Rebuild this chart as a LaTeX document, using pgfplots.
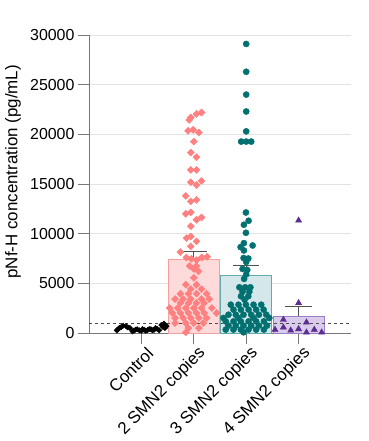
\documentclass[border=0pt]{standalone}
\usepackage{pgfplots}
\pgfplotsset{compat=1.18}
\usepackage{fontspec}
\setmainfont{Liberation Sans}
\definecolor{pinkpt}{RGB}{255,128,128}
\definecolor{pinkfill}{RGB}{255,218,218}
\definecolor{pinkedge}{RGB}{244,160,160}
\definecolor{tealpt}{RGB}{0,112,112}
\definecolor{tealfill}{RGB}{212,232,236}
\definecolor{tealedge}{RGB}{100,170,170}
\definecolor{purppt}{RGB}{92,45,145}
\definecolor{purpfill}{RGB}{217,204,234}
\definecolor{purpedge}{RGB}{155,125,200}
\definecolor{axgray}{RGB}{120,120,120}
\definecolor{errgray}{RGB}{80,80,80}
\begin{document}
\begin{tikzpicture}
\begin{axis}[
  scale only axis, width=262bp, height=298bp,
  xmin=0, xmax=5, ymin=0, ymax=30000,
  axis x line*=bottom, axis y line*=left,
  xtick={1,2,3,4},
  xticklabels={Control,2 SMN2 copies,3 SMN2 copies,4 SMN2 copies},
  x tick label style={rotate=45, anchor=east, xshift=5bp, yshift=-11bp, font=\fontsize{17}{17}\selectfont},
  ytick={0,5000,...,30000},
  y tick label style={font=\fontsize{16}{16}\selectfont},
  ymajorgrids, grid style={gray!22, line width=0.7pt},
  tick align=outside, major tick length=11bp,
  tick style={axgray, line width=0.9pt},
  axis line style={axgray, line width=0.9pt},
  ylabel={pNf-H concentration (pg/mL)},
  ylabel style={at={(axis description cs:-0.29,0.541)}, anchor=center, font=\fontsize{17}{17}\selectfont},
  scaled y ticks=false,
  /pgf/number format/set thousands separator={},
  /pgf/number format/assume math mode=true,
  clip=false,
]
% bars
\addplot[ybar, bar shift=0pt, bar width=0.97, fill=pinkfill, draw=pinkedge, line width=0.9pt] coordinates {(2,7440)};
\addplot[ybar, bar shift=0pt, bar width=0.97, fill=tealfill, draw=tealedge, line width=0.9pt] coordinates {(3,5830)};
\addplot[ybar, bar shift=0pt, bar width=0.97, fill=purpfill, draw=purpedge, line width=0.9pt] coordinates {(4,1710)};
% threshold
\addplot[black!70, dashed, line width=0.7pt] coordinates {(0,965) (5,965)};
% control
\addplot[only marks, mark=square*, mark size=1.9, mark options={rotate=45, fill=black, draw=black}] coordinates {
(0.53,270)(0.58,500)(0.65,740)(0.71,670)(0.78,500)(0.83,170)(0.89,340)(0.96,270)(1.02,400)(1.08,230)
(1.15,400)(1.21,270)(1.27,500)(1.34,270)(1.38,800)(1.43,950)(1.45,500)
(0.55,350)(0.62,620)(0.74,560)(0.86,250)(0.92,380)(1.0,230)(1.05,330)(1.12,300)(1.18,380)(1.24,320)(1.3,420)(1.41,620)(1.48,700)
};
% 2 copies
\addplot[only marks, mark=square*, mark size=2.5, mark options={rotate=45, fill=pinkpt, draw=pinkpt}] coordinates {
(2.147,22200)(2.051,22050)(1.943,21700)(1.911,21450)
(1.891,20350)(1.987,20450)(2.096,20180)
(2.0,19270)
(1.943,18170)(2.051,17700)
(1.943,16420)(2.051,16420)
(1.943,15180)(2.147,15320)(2.051,14900)
(1.847,13800)(1.943,13250)(2.051,13400)
(1.847,12000)(1.943,12150)(2.147,11630)(2.051,11400)(1.943,10750)
(1.86,9550)(1.943,9720)(2.051,9220)(1.943,8720)
(1.743,8150)(1.858,7600)(1.954,7470)(2.05,7340)(2.152,7600)(2.255,7670)
(1.92,6740)(2.05,6740)(2.0,6450)(2.09,6200)(2.0,5560)
(1.847,4860)(2.051,4860)
(1.943,4420)(2.147,4420)
(1.745,3960)(1.898,3960)(2.051,3960)(2.243,3960)
(1.642,3420)(1.796,3420)(1.943,3420)(2.147,3420)(2.294,3420)
(1.745,3020)(1.898,3020)(2.051,3020)(2.198,3020)
(1.54,2510)(1.693,2510)(1.847,2510)(2.0,2510)(2.147,2510)(2.345,2510)
(1.591,2010)(1.745,2010)(1.898,2010)(2.051,2010)(2.198,2010)(2.434,2010)
(1.642,1510)(1.796,1510)(1.943,1510)(2.096,1510)(2.243,1510)
(1.642,1000)(1.847,1000)(2.0,1000)(2.179,1000)
(1.898,500)(2.096,500)
(1.847,70)
};
% 3 copies
\addplot[only marks, mark=*, mark size=3.1, mark options={fill=tealpt, draw=tealpt}] coordinates {
(3,29100)(3,26300)(3,24000)(3,22300)(3,20300)(2.904,19270)(3,19270)(3.096,19270)
(2.995,12130)(3.046,11300)(2.956,10900)(2.995,10090)(2.956,9050)(3.123,8810)(2.893,8650)(2.956,8310)
(2.95,7550)(3.04,7500)(3.0,7150)(2.93,6450)(3.02,6350)(3.0,5900)(2.96,5450)
(2.87,4600)(2.98,4600)(3.08,4600)
(2.93,4150)(3.06,4150)
(2.90,3700)(3.04,3700)
(2.97,3350)
(2.706,2850)(2.853,2850)(2.994,2850)(3.14,2850)(3.287,2850)
(2.757,2350)(2.898,2350)(3.045,2350)(3.19,2350)(3.332,2350)
(2.662,1840)(2.802,1840)(2.949,1840)(3.096,1840)(3.243,1840)(3.383,1840)
(2.566,1510)(2.853,1510)(3.14,1510)(3.441,1510)
(2.61,1170)(2.757,1170)(2.898,1170)(3.045,1170)(3.19,1170)(3.338,1170)
(2.662,740)(2.802,740)(2.949,740)(3.096,740)(3.243,740)(3.396,740)
(2.61,340)(2.757,340)(2.898,340)(3.045,340)(3.19,340)(3.338,340)
(2.949,70)
};
% 4 copies
\addplot[only marks, mark=triangle*, mark size=3.6, mark options={fill=purppt, draw=purppt}] coordinates {
(4,11330)(4,3020)(3.71,1340)(4.15,1070)(3.55,330)(3.71,560)(3.85,260)(4.0,400)(4.15,60)(4.3,330)(4.44,60)
};
% error bars
\addplot[errgray, line width=0.9pt] coordinates {(2,7440)(2,8200)};
\addplot[errgray, line width=0.9pt] coordinates {(1.75,8200)(2.25,8200)};
\addplot[errgray, line width=0.9pt] coordinates {(3,5830)(3,6770)};
\addplot[errgray, line width=0.9pt] coordinates {(2.75,6770)(3.25,6770)};
\addplot[errgray, line width=0.9pt] coordinates {(4,1710)(4,2720)};
\addplot[errgray, line width=0.9pt] coordinates {(3.75,2720)(4.25,2720)};
\end{axis}
\pgfresetboundingbox
\path (-89bp,-108bp) rectangle (280bp,333bp);
\end{tikzpicture}
\end{document}
